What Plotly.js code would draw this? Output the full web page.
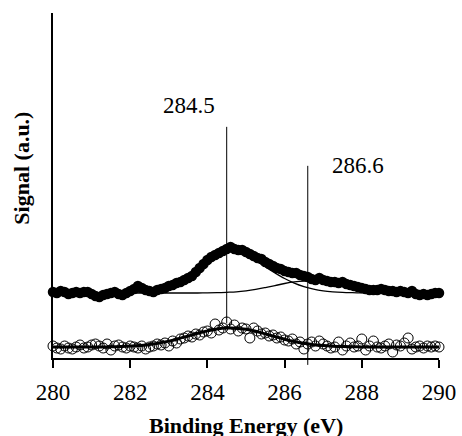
<!DOCTYPE html>
<html>
<head>
<meta charset="utf-8">
<script src="https://cdn.plot.ly/plotly-3.0.1.min.js"></script>
<style>
  html, body { margin: 0; padding: 0; background: #ffffff; }
  #chart { width: 462px; height: 436px; }
</style>
</head>
<body>
<div id="chart"></div>
<script>
// C 1s spectra: binding energy (eV) and signal (arbitrary units)
const energy = [
  280.0, 280.1, 280.2, 280.3, 280.4, 280.5, 280.6, 280.7, 280.8, 280.9,
  281.0, 281.1, 281.2, 281.3, 281.4, 281.5, 281.6, 281.7, 281.8, 281.9,
  282.0, 282.1, 282.2, 282.3, 282.4, 282.5, 282.6, 282.7, 282.8, 282.9,
  283.0, 283.1, 283.2, 283.3, 283.4, 283.5, 283.6, 283.7, 283.8, 283.9,
  284.0, 284.1, 284.2, 284.3, 284.4, 284.5, 284.6, 284.7, 284.8, 284.9,
  285.0, 285.1, 285.2, 285.3, 285.4, 285.5, 285.6, 285.7, 285.8, 285.9,
  286.0, 286.1, 286.2, 286.3, 286.4, 286.5, 286.6, 286.7, 286.8, 286.9,
  287.0, 287.1, 287.2, 287.3, 287.4, 287.5, 287.6, 287.7, 287.8, 287.9,
  288.0, 288.1, 288.2, 288.3, 288.4, 288.5, 288.6, 288.7, 288.8, 288.9,
  289.0, 289.1, 289.2, 289.3, 289.4, 289.5, 289.6, 289.7, 289.8, 289.9,
  290.0
];

// upper spectrum (filled circles)
const signalUpper = [
  66, 65, 67, 66, 64, 65, 66, 65, 66, 66,
  64, 62, 61, 63, 64, 65, 66, 64, 63, 65,
  67, 69, 72, 70, 68, 67, 66, 68, 69, 70,
  72, 73, 75, 76, 78, 80, 82, 86, 90, 94,
  98, 101, 103, 105, 107, 109, 111, 109, 108, 108,
  106, 104, 102, 100, 99, 96, 94, 92, 90, 89,
  87, 86, 85, 85, 83, 82, 81, 79, 78, 80,
  78, 77, 76, 76, 75, 76, 74, 73, 72, 71,
  70, 69, 68, 68, 68, 69, 68, 67, 67, 66,
  67, 66, 65, 67, 64, 63, 64, 63, 64, 65,
  65
];

// lower spectrum (open circles)
const signalLower = [
  12, 10, 9, 12, 10, 9, 11, 13, 10, 11,
  13, 14, 12, 10, 14, 8, 12, 13, 11, 10,
  12, 11, 10, 12, 9, 11, 12, 14, 13, 15,
  12, 17, 15, 19, 20, 22, 21, 24, 23, 26,
  27, 25, 34, 28, 30, 36, 29, 33, 27, 30,
  29, 20, 30, 27, 24, 25, 22, 23, 20, 21,
  18, 17, 19, 14, 16, 9, 14, 16, 12, 17,
  14, 12, 10, 11, 16, 8, 12, 15, 11, 12,
  19, 8, 12, 17, 11, 10, 12, 14, 6, 13,
  12, 15, 20, 9, 11, 12, 10, 12, 11, 12,
  11
];

// fitted curves, sampled every 0.25 eV
const fitEnergy = [
  280.00, 280.25, 280.50, 280.75, 281.00, 281.25, 281.50, 281.75,
  282.00, 282.25, 282.50, 282.75, 283.00, 283.25, 283.50, 283.75,
  284.00, 284.25, 284.50, 284.75, 285.00, 285.25, 285.50, 285.75,
  286.00, 286.25, 286.50, 286.75, 287.00, 287.25, 287.50, 287.75,
  288.00, 288.25, 288.50, 288.75, 289.00, 289.25, 289.50, 289.75,
  290.00
];

// upper spectrum, component at 284.5 eV (on baseline)
const fitUpperC1 = [
  65.0, 65.0, 65.0, 65.0, 65.0, 65.0, 65.1, 65.2,
  65.5, 66.2, 67.3, 69.0, 71.3, 74.5, 78.8, 85.5,
  94.0, 101.5, 106.0, 105.8, 102.3, 97.2, 91.2, 85.1,
  79.5, 74.9, 71.4, 68.9, 67.2, 66.2, 65.6, 65.3,
  65.1, 65.0, 65.0, 65.0, 65.0, 65.0, 65.0, 65.0,
  65.0
];

// upper spectrum, component at 286.6 eV (on baseline)
const fitUpperC2 = [
  65.0, 65.0, 65.0, 65.0, 65.0, 65.0, 65.0, 65.0,
  65.0, 65.0, 65.0, 65.0, 65.0, 65.0, 65.0, 65.0,
  65.1, 65.3, 65.7, 66.2, 67.2, 68.6, 70.4, 72.4,
  74.5, 76.1, 76.9, 76.8, 75.8, 74.1, 72.0, 70.0,
  68.3, 67.0, 66.1, 65.6, 65.3, 65.1, 65.0, 65.0,
  65.0
];

// lower spectrum, fitted envelope
const fitLower = [
  11.0, 11.0, 11.0, 11.0, 11.0, 11.1, 11.2, 11.5,
  11.9, 12.5, 13.6, 15.0, 16.9, 19.3, 22.0, 24.7,
  27.1, 29.0, 29.9, 29.8, 28.7, 26.7, 24.1, 21.4,
  18.8, 16.5, 14.7, 13.3, 12.4, 11.8, 11.4, 11.2,
  11.1, 11.0, 11.0, 11.0, 11.0, 11.0, 11.0, 11.0,
  11.0
];

// peak positions marked with vertical lines (eV)
const peakPositions = [284.5, 286.6];
const xTickValues = [280, 282, 284, 286, 288, 290];
const xTickLabels = ['280', '282', '284', '286', '288', '290'];

const serif = 'Liberation Serif';

const traces = [
  {
    x: fitEnergy, y: fitUpperC1, type: 'scatter', mode: 'lines',
    line: { color: '#000', width: 1.3, shape: 'spline' }, hoverinfo: 'skip'
  },
  {
    x: fitEnergy, y: fitUpperC2, type: 'scatter', mode: 'lines',
    line: { color: '#000', width: 1.3, shape: 'spline' }, hoverinfo: 'skip'
  },
  {
    x: energy, y: signalUpper, type: 'scatter', mode: 'markers',
    marker: { symbol: 'circle', size: 10.5, color: '#000', line: { width: 0 } },
    cliponaxis: false
  },
  {
    x: energy, y: signalLower, type: 'scatter', mode: 'markers',
    marker: { symbol: 'circle-open', size: 10, color: '#000', line: { width: 1, color: '#000' } },
    cliponaxis: false
  },
  {
    x: fitEnergy, y: fitLower, type: 'scatter', mode: 'lines',
    line: { color: '#000', width: 3, shape: 'spline' }, hoverinfo: 'skip'
  }
];

// vertical peak markers: [top, bottom] in paper units for each peak
const peakLineSpan = [[0.67, 0.10], [0.557, -0.02]];
const shapes = peakPositions.map((p, i) => ({
  type: 'line', xref: 'x', yref: 'paper',
  x0: p, x1: p, y0: peakLineSpan[i][1], y1: peakLineSpan[i][0],
  line: { color: '#000', width: 1 }, layer: 'below'
}));

const labelOffsets = [{ xshift: -38, y: 0.733 }, { xshift: 50, y: 0.557 }];
const annotations = peakPositions.map((p, i) => ({
  x: p, xref: 'x', y: labelOffsets[i].y, yref: 'paper',
  xshift: labelOffsets[i].xshift, xanchor: 'center', yanchor: 'middle',
  text: p.toFixed(1), showarrow: false,
  font: { family: serif, size: 23, color: '#000' }
}));

annotations.push({
  x: 0.5, xref: 'paper', y: -0.195, yref: 'paper',
  xanchor: 'center', yanchor: 'middle', showarrow: false,
  text: '<b>Binding Energy (eV)</b>',
  font: { family: serif, size: 22, color: '#000' }
});
annotations.push({
  x: -0.081, xref: 'paper', y: 0.551, yref: 'paper',
  xanchor: 'center', yanchor: 'middle', showarrow: false, textangle: -90,
  text: '<b>Signal (a.u.)</b>',
  font: { family: serif, size: 22, color: '#000' }
});

const layout = {
  width: 462, height: 436,
  margin: { l: 53, r: 23, t: 13, b: 78 },
  paper_bgcolor: '#fff', plot_bgcolor: '#fff',
  showlegend: false,
  font: { family: serif, color: '#000' },
  xaxis: {
    range: [280, 290], tickmode: 'array', tickvals: xTickValues, ticktext: xTickLabels,
    ticks: 'outside', ticklen: 8, tickwidth: 2, tickcolor: '#000', ticklabelstandoff: 4,
    showline: true, linewidth: 2, linecolor: '#000', mirror: false,
    showgrid: false, zeroline: false,
    tickfont: { family: serif, size: 23, color: '#000' }
  },
  yaxis: {
    range: [0, 345], showticklabels: false, ticks: '',
    showline: true, linewidth: 2, linecolor: '#000',
    showgrid: false, zeroline: false
  },
  shapes: shapes,
  annotations: annotations
};

Plotly.newPlot('chart', traces, layout, { displayModeBar: false, staticPlot: true });
</script>
</body>
</html>
